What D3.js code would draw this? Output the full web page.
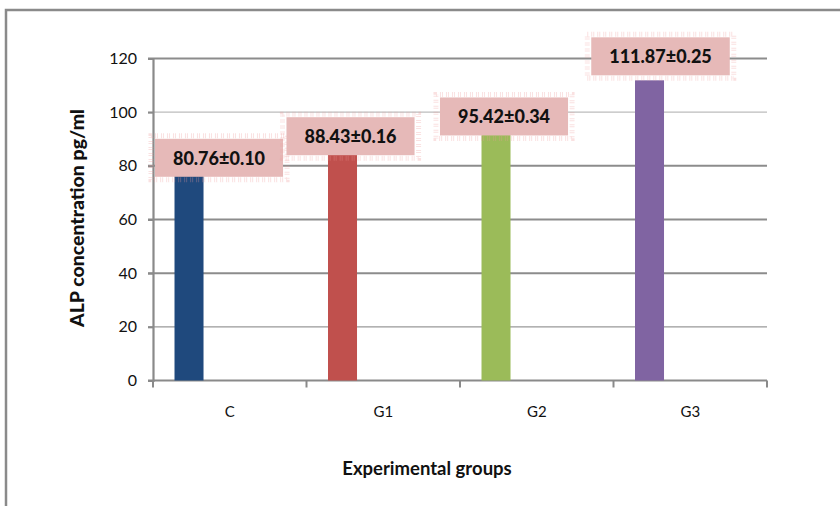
<!DOCTYPE html>
<html>
<head>
<meta charset="utf-8">
<script src="https://cdn.jsdelivr.net/npm/d3@7"></script>
<style>
  html, body { margin: 0; padding: 0; background: #fff; }
  svg { display: block; font-family: Lato, "Open Sans", sans-serif; }
</style>
</head>
<body>
<svg id="chart" width="840" height="506"></svg>
<script>
// ---- data ----
const categories = ["C", "G1", "G2", "G3"];
const values = [80.76, 88.43, 95.42, 111.87];
const errors = [0.10, 0.16, 0.34, 0.25];
const yTicks = [0, 20, 40, 60, 80, 100, 120];
const barColors = ["#1f497d", "#c0504d", "#9bbb59", "#8064a2"];
const yTitle = "ALP concentration pg/ml";
const xTitle = "Experimental groups";

// ---- layout ----
const svg = d3.select("#chart");
const plot = { left: 153, right: 767, top: 58.5, bottom: 380.5 };

// outer chart frame
svg.append("rect")
  .attr("x", 6).attr("y", 10).attr("width", 900).attr("height", 600)
  .attr("fill", "#fff").attr("stroke", "#8a8a8a").attr("stroke-width", 2.5);

const x = d3.scaleBand().domain(categories).range([plot.left, plot.right]).padding(0);
const y = d3.scaleLinear().domain([0, 120]).range([plot.bottom, plot.top]);

// gridlines (visual weights as in the reference)
const gridStyle = { 20: [1.2, "#999"], 40: [2, "#8c8c8c"], 60: [2, "#8c8c8c"], 80: [2, "#8c8c8c"], 100: [1.2, "#bcbcbc"], 120: [2, "#8c8c8c"] };
svg.append("g").selectAll("line").data(yTicks.filter(t => t > 0)).join("line")
  .attr("x1", plot.left - 5).attr("x2", plot.right)
  .attr("y1", d => y(d)).attr("y2", d => y(d))
  .attr("stroke", d => gridStyle[d][1]).attr("stroke-width", d => gridStyle[d][0]);

// y axis
const yAxis = d3.axisLeft(y).tickValues(yTicks).tickSize(5).tickPadding(11);
const gy = svg.append("g").attr("transform", `translate(${plot.left},0)`).call(yAxis);
gy.select(".domain").attr("stroke", "#8a8a8a").attr("stroke-width", 2.2);
gy.selectAll(".tick line").attr("stroke", "#8a8a8a").attr("stroke-width", 2);
gy.selectAll(".tick text").attr("font-size", 16).attr("fill", "#111")
  .attr("font-family", "Lato, sans-serif");

// x axis
const xAxis = d3.axisBottom(x).tickSize(0).tickPadding(26);
const gx = svg.append("g").attr("transform", `translate(0,${plot.bottom})`).call(xAxis);
gx.select(".domain").attr("stroke", "#8a8a8a").attr("stroke-width", 2.2).attr("d", `M${plot.left - 5},0H${plot.right}`);
gx.selectAll(".tick text").attr("font-size", 15).attr("fill", "#111")
  .attr("font-family", "Lato, sans-serif");
// category boundary tick marks
const bounds = categories.map(c => x(c)).concat([x(categories[categories.length - 1]) + x.bandwidth()]);
svg.append("g").selectAll("line").data(bounds).join("line")
  .attr("x1", d => d).attr("x2", d => d)
  .attr("y1", plot.bottom).attr("y2", plot.bottom + 7)
  .attr("stroke", "#8a8a8a").attr("stroke-width", 2);

// bars: first of two slots in each category (clustered layout)
const inner = d3.scaleBand().domain([0, 1]).range([0, x.bandwidth()]).paddingInner(0.644).paddingOuter(0.264);
svg.append("g").selectAll("rect").data(categories).join("rect")
  .attr("x", (d) => x(d) + inner(0))
  .attr("width", inner.bandwidth())
  .attr("y", (d, i) => y(values[i]))
  .attr("height", (d, i) => y(0) - y(values[i]))
  .attr("fill", (d, i) => barColors[i]);

// data labels in pink boxes
const labelNudge = [[30, -6], [8, -7], [8, -8], [11, -24]];
const lg = svg.append("g");
categories.forEach((c, i) => {
  const cx = x(c) + inner(0) + inner.bandwidth() / 2 + labelNudge[i][0];
  const cy = y(values[i]) + labelNudge[i][1];
  const txt = `${values[i].toFixed(2)}±${errors[i].toFixed(2)}`;
  const g = lg.append("g");
  const t = g.append("text").attr("x", cx).attr("y", cy)
    .attr("text-anchor", "middle").attr("dominant-baseline", "central")
    .attr("font-size", 18).attr("font-weight", 900).attr("fill", "#111")
    .text(txt);
  const w = t.node().getComputedTextLength() + 36;
  const h = 38;
  // fuzzy halo
  g.insert("rect", "text")
    .attr("x", cx - w / 2 - 4).attr("y", cy - h / 2 - 3).attr("width", w + 8).attr("height", h + 6)
    .attr("fill", "none").attr("stroke", "#f09a9a").attr("stroke-width", 5)
    .attr("stroke-dasharray", "1 3 1 1").attr("opacity", 0.3);
  g.insert("rect", "text")
    .attr("x", cx - w / 2).attr("y", cy - h / 2).attr("width", w).attr("height", h)
    .attr("fill", "#e6b9b8");
});

// titles
svg.append("text").attr("x", 427).attr("y", 475)
  .attr("text-anchor", "middle").attr("font-size", 18.5).attr("font-weight", "bold").attr("fill", "#111")
  .text(xTitle);
svg.append("text")
  .attr("transform", "translate(84,218) rotate(-90)")
  .attr("text-anchor", "middle").attr("font-size", 19.5).attr("font-weight", 900).attr("fill", "#111")
  .text(yTitle);
</script>
</body>
</html>
